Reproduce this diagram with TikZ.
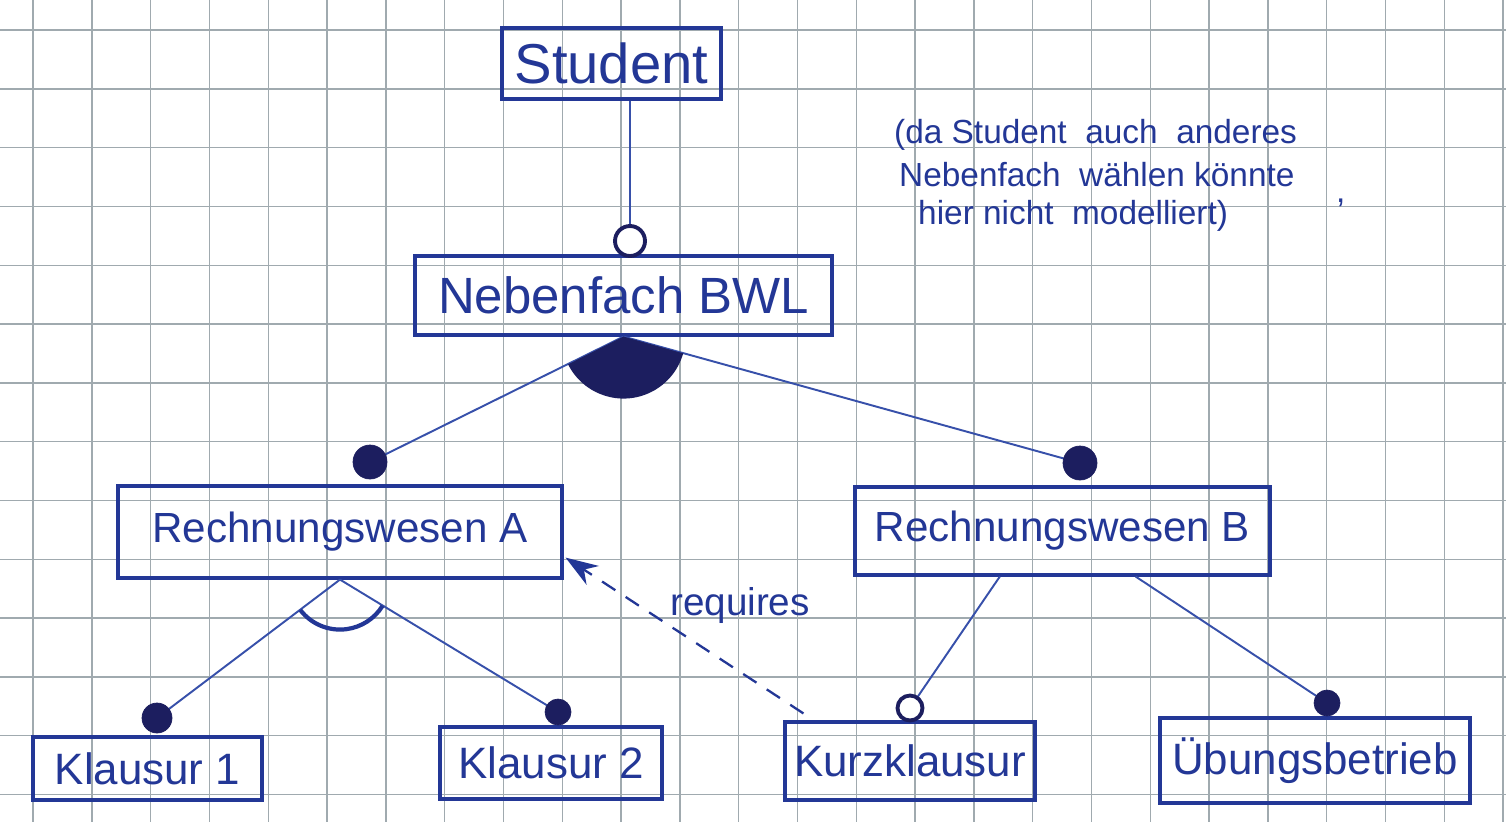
\documentclass[tikz,border=0pt]{standalone}
\usepackage{fontspec}
\setmainfont{Liberation Sans}
\usetikzlibrary{calc,arrows.meta}
\definecolor{ink}{RGB}{35,55,150}
\definecolor{inkdark}{RGB}{28,30,95}
\definecolor{inkline}{RGB}{55,80,170}
\definecolor{gridc}{RGB}{160,170,175}
\begin{document}
\begin{tikzpicture}[x=0.02cm,y=0.02cm,
 box/.style={draw=ink,line width=1.8pt,rectangle,inner sep=0pt,text=ink},
 conn/.style={draw=inkline,line width=1.1pt},
 opencirc/.style={circle,draw=inkdark,line width=2.2pt,fill=white,inner sep=0pt},
 fillcirc/.style={circle,fill=inkdark,draw=inkdark,inner sep=0pt},
 note/.style={text=ink,anchor=base west,font=\fontsize{19}{22}\selectfont},
 bigf/.style={font=\fontsize{32}{38}\selectfont},
 midf/.style={font=\fontsize{29}{34}\selectfont},
 smallf/.style={font=\fontsize{24}{28}\selectfont},
 leaff/.style={font=\fontsize{25}{30}\selectfont}]
\fill[white] (0,0) rectangle (1506,-822);
\useasboundingbox (0,0) rectangle (1506,-822);
\foreach \i in {0,...,25} \draw[gridc,line width=0.8pt] ({33+58.8*\i},0) -- ({33+58.8*\i},-822);
\foreach \j in {0,...,13} \draw[gridc,line width=0.8pt] (0,{-30-58.8*\j}) -- (1506,{-30-58.8*\j});

% boxes
\node[box,bigf,minimum width=4.38cm,minimum height=1.42cm] (student) at (611.5,-63.5) {Student};
\node[box,midf,minimum width=8.34cm,minimum height=1.58cm] (neben) at (623.5,-295.5) {Nebenfach BWL};
\node[box,smallf,minimum width=8.88cm,minimum height=1.84cm] (rechA) at (340,-532) {Rechnungswesen A};
\node[box,smallf,minimum width=8.3cm,minimum height=1.76cm] (rechB) at (1062.5,-531) {Rechnungswesen B};
\node[box,leaff,minimum width=4.58cm,minimum height=1.26cm] (k1) at (147.5,-768.5) {Klausur 1};
\node[box,leaff,minimum width=4.44cm,minimum height=1.44cm] (k2) at (551,-763) {Klausur 2};
\node[box,leaff,minimum width=5.0cm,minimum height=1.56cm] (kurz) at (910,-761) {Kurzklausur};
\node[box,leaff,minimum width=6.2cm,minimum height=1.7cm] (ueb) at (1315,-760.5) {Übungsbetrieb};

% circle markers (positions)
\coordinate (p0) at (630,-241);
\coordinate (p1) at (370,-462);
\coordinate (p2) at (1080,-463);
\coordinate (p3) at (157,-718);
\coordinate (p4) at (558,-712);
\coordinate (p5) at (910,-708);
\coordinate (p6) at (1327,-703);

% connectors
\coordinate (sb) at (student.south -| p0);
\draw[conn] (sb) -- (p0);
\draw[conn] (neben.south) -- (p1);
\draw[conn] (neben.south) -- (p2);
\draw[conn] (rechA.south) -- (p3);
\draw[conn] (rechA.south) -- (p4);
\coordinate (rb1) at ($(rechB.south west)!0.35!(rechB.south east)$);
\coordinate (rb2) at ($(rechB.south west)!0.675!(rechB.south east)$);
\draw[conn] (rb1) -- (p5);
\draw[conn] (rb2) -- (p6);

% group arcs
\fill[inkdark] (neben.south) -- +(206.6:1.24cm) arc[start angle=206.6,end angle=344.3,radius=1.24cm] -- cycle;
\draw[ink,line width=2.4pt] ($(rechA.south)+(217.4:1cm)$) arc[start angle=217.4,end angle=328.4,radius=1cm];

% markers
\node[opencirc,minimum size=0.6cm] (c0) at (p0) {};
\node[fillcirc,minimum size=0.68cm] (c1) at (p1) {};
\node[fillcirc,minimum size=0.68cm] (c2) at (p2) {};
\node[fillcirc,minimum size=0.6cm] (c3) at (p3) {};
\node[fillcirc,minimum size=0.52cm] (c4) at (p4) {};
\node[opencirc,minimum size=0.5cm] (c5) at (p5) {};
\node[fillcirc,minimum size=0.52cm] (c6) at (p6) {};

% requires
\coordinate (rqs) at ($(kurz.north west)+(20,7)$);
\coordinate (rqe) at ($(rechA.south east)+(2,22)$);
\draw[ink,line width=1.3pt,dash pattern=on 9pt off 7pt,-{Stealth[length=0.65cm,width=0.45cm]}] (rqs) -- (rqe);
\node[text=ink,font=\fontsize{22}{26}\selectfont] (req) at (740,-605) {requires};

% annotation
\node[note] (n1) at (888,-143) {(da Student \ auch \ anderes};
\node[note] (n2) at (893,-186) {Nebenfach \ wählen könnte};
\node[note] (n3) at (912,-224) {hier nicht \ modelliert)};
\node[note] (n4) at (1330,-202) {,};
\end{tikzpicture}
\end{document}
